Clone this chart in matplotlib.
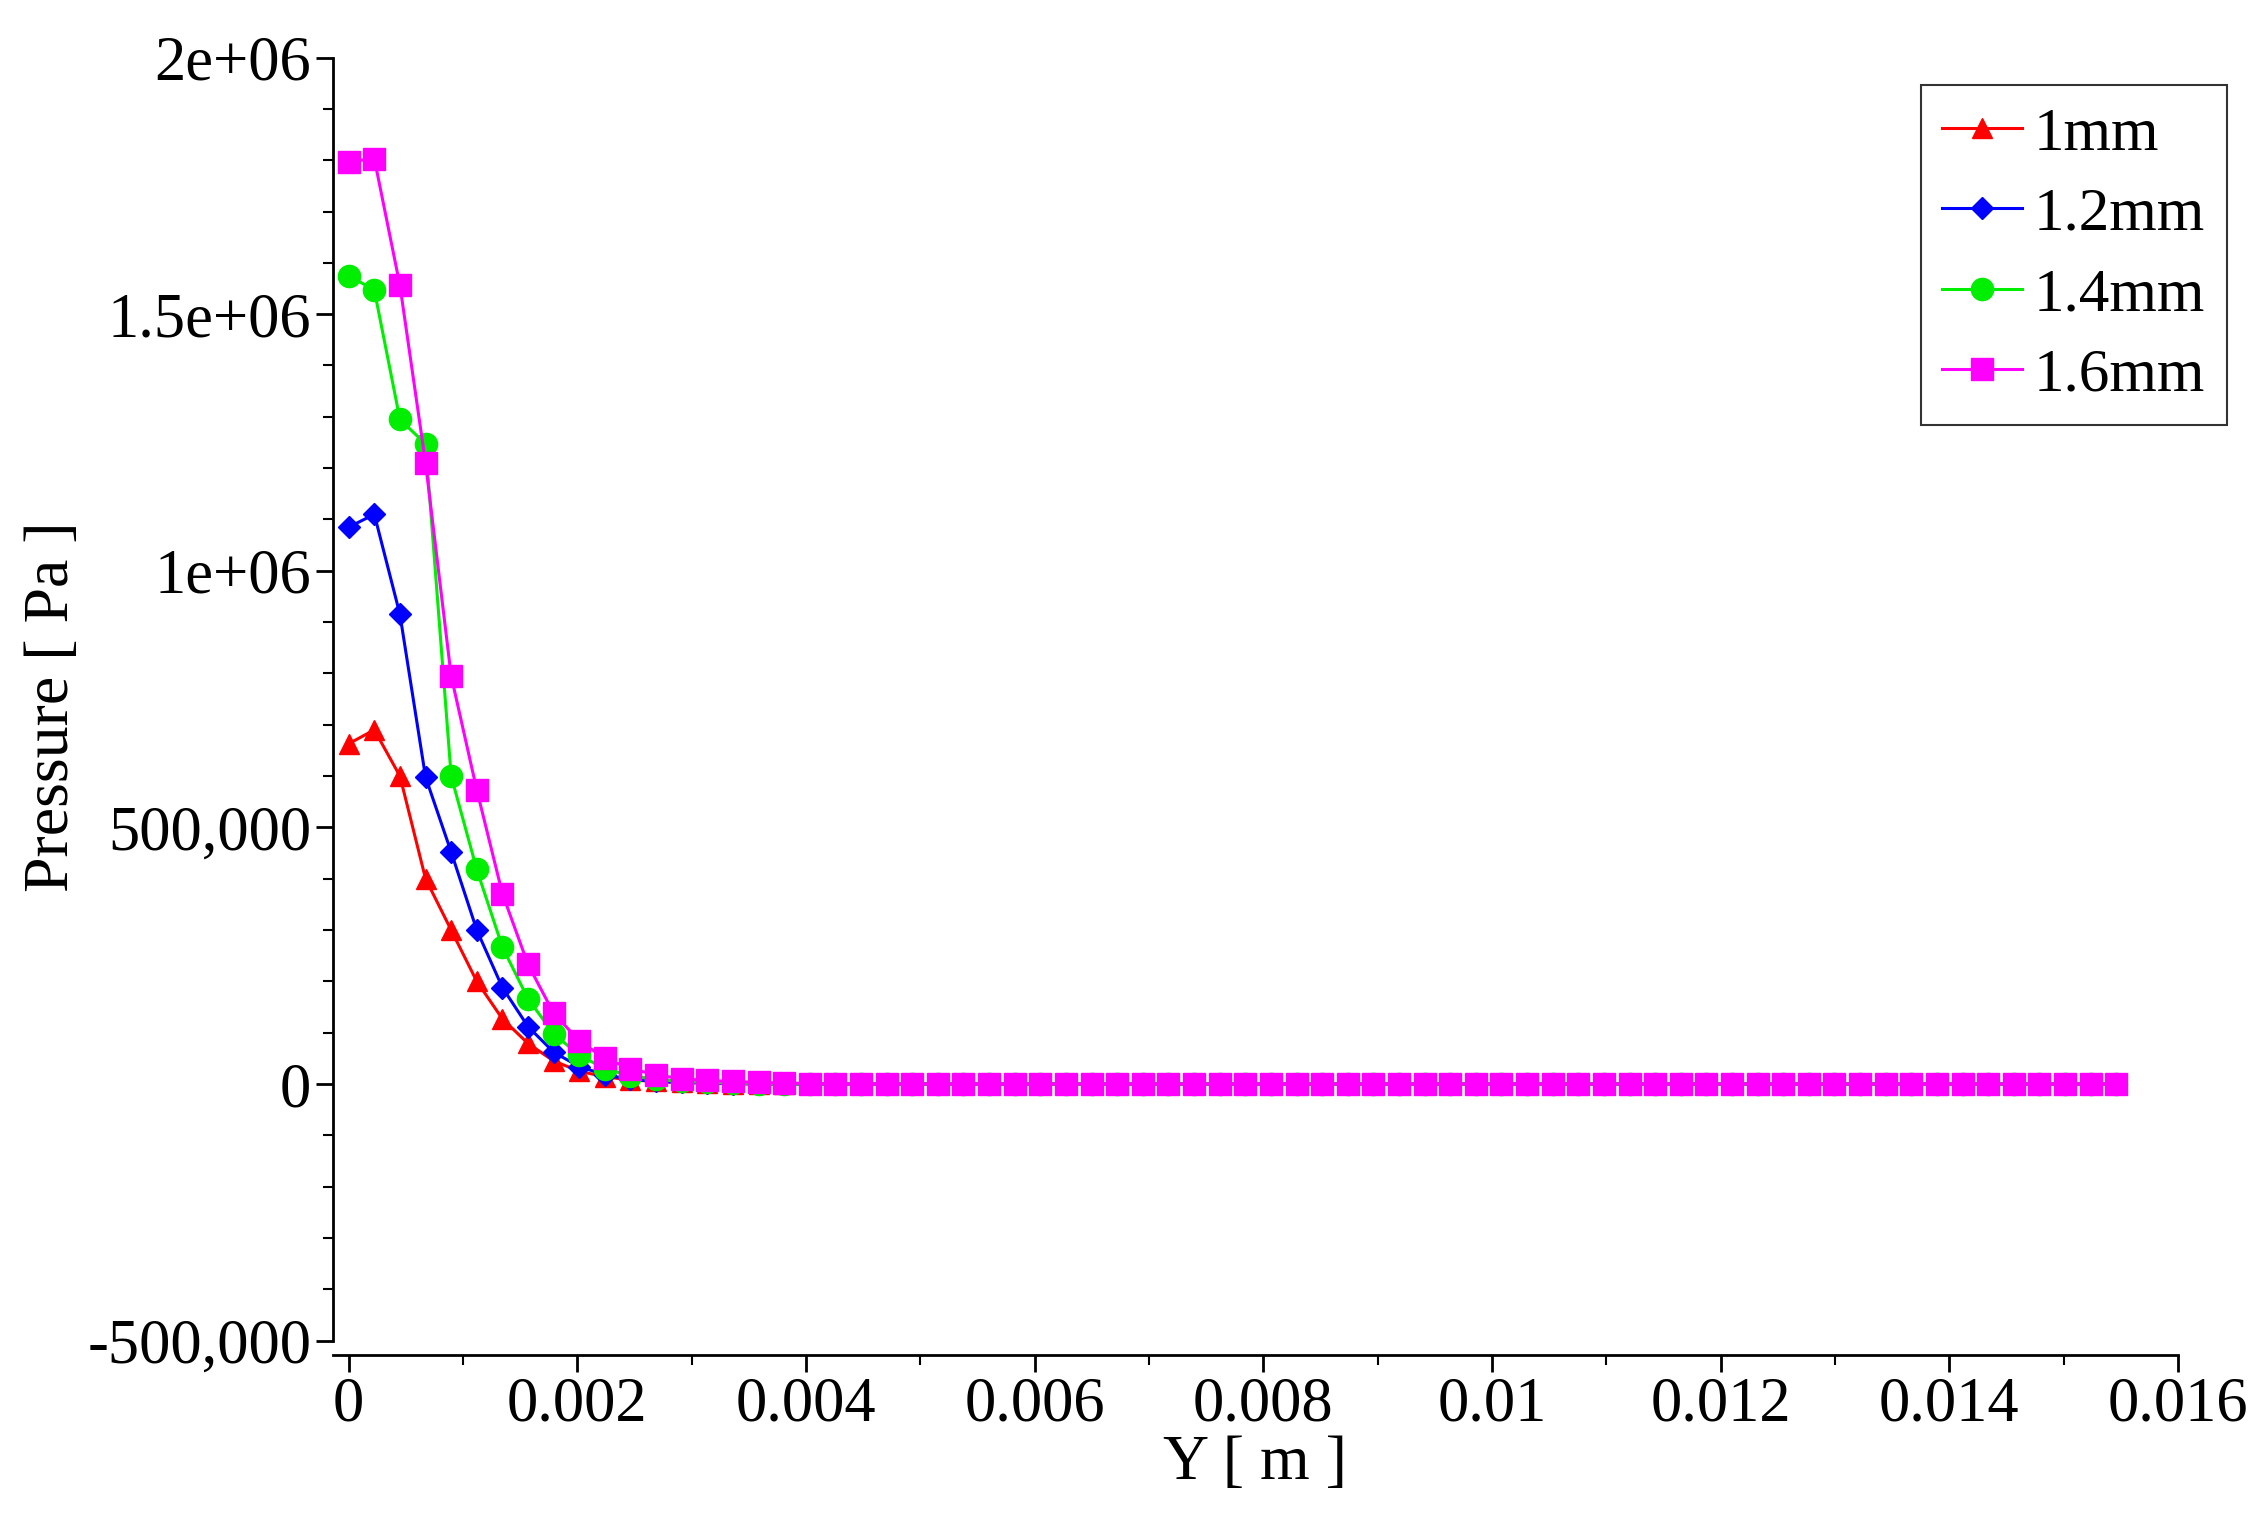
import numpy as np
import matplotlib
matplotlib.use("Agg")
import matplotlib.pyplot as plt
from matplotlib.ticker import MultipleLocator, FixedLocator, FixedFormatter

plt.rcParams['font.family'] = ['Liberation Serif', 'DejaVu Serif']

y_pos = np.linspace(0, 0.01546, 70)
head_1mm = [663e3, 690e3, 600e3, 400e3, 300e3, 200e3, 127e3, 79e3, 45e3, 25e3, 14e3, 8e3, 5e3, 3e3, 2e3, 1e3]
head_12mm = [1085e3, 1110e3, 915e3, 598e3, 452e3, 300e3, 188e3, 112e3, 62e3, 34e3, 18e3, 9e3, 5e3, 3e3, 2e3, 1e3]
head_14mm = [1575e3, 1547e3, 1295e3, 1247e3, 600e3, 418e3, 267e3, 166e3, 98e3, 56e3, 30e3, 16e3, 9e3, 5e3, 3e3, 2e3, 1e3]
head_16mm = [1797e3, 1803e3, 1556e3, 1210e3, 795e3, 573e3, 371e3, 233e3, 138e3, 84e3, 50e3, 30e3, 18e3, 10e3, 7e3, 5e3, 3e3, 2e3, 1e3]
labels = ['1mm', '1.2mm', '1.4mm', '1.6mm']
colors = ['#ff0000', '#0000ff', '#00ee00', '#ff00ff']
markers = ['^', 'D', 'o', 's']
msizes = [15, 11, 16, 16]
heads = [head_1mm, head_12mm, head_14mm, head_16mm]
x_ticks = [0, 0.002, 0.004, 0.006, 0.008, 0.01, 0.012, 0.014, 0.016]
x_ticklabels = ['0', '0.002', '0.004', '0.006', '0.008', '0.01', '0.012', '0.014', '0.016']
y_ticks = [-5e5, 0, 5e5, 1e6, 1.5e6, 2e6]
y_ticklabels = ['-500,000', '0', '500,000', '1e+06', '1.5e+06', '2e+06']

fig = plt.figure(figsize=(22.64, 15.14), dpi=100)
ax = fig.add_axes([0.147, 0.105, 0.815, 0.857])

for h, lab, c, m, ms in zip(heads, labels, colors, markers, msizes):
    vals = np.array(list(h) + [0.0] * (len(y_pos) - len(h)))
    ax.plot(y_pos, vals, color=c, marker=m, markersize=ms, lw=2.2, label=lab)

ax.set_xlim(-0.000139, 0.016)
ax.set_ylim(-528000, 2e6)
ax.spines['top'].set_visible(False)
ax.spines['right'].set_visible(False)
ax.spines['left'].set_bounds(-5e5, 2e6)
ax.spines['left'].set_linewidth(2)
ax.spines['bottom'].set_linewidth(2)
ax.xaxis.set_major_locator(FixedLocator(x_ticks))
ax.xaxis.set_major_formatter(FixedFormatter(x_ticklabels))
ax.xaxis.set_minor_locator(MultipleLocator(0.001))
ax.yaxis.set_major_locator(FixedLocator(y_ticks))
ax.yaxis.set_major_formatter(FixedFormatter(y_ticklabels))
ax.yaxis.set_minor_locator(MultipleLocator(1e5))
ax.tick_params(axis='both', which='major', labelsize=45, length=12, width=2, direction='out')
ax.tick_params(axis='both', which='minor', length=7, width=1.5, direction='out')
ax.set_xlabel('Y [ m ]', fontsize=46, labelpad=0)
ax.set_ylabel('Pressure [ Pa ]', fontsize=46, labelpad=4)

leg = ax.legend(loc='upper right', bbox_to_anchor=(1.043, 1.002), fontsize=44, frameon=True,
                fancybox=False, edgecolor='black', handlelength=1.3, handletextpad=0.2,
                borderpad=0.35, labelspacing=0.4)
leg.get_frame().set_linewidth(1.5)

fig.savefig('out.png', dpi=100)
